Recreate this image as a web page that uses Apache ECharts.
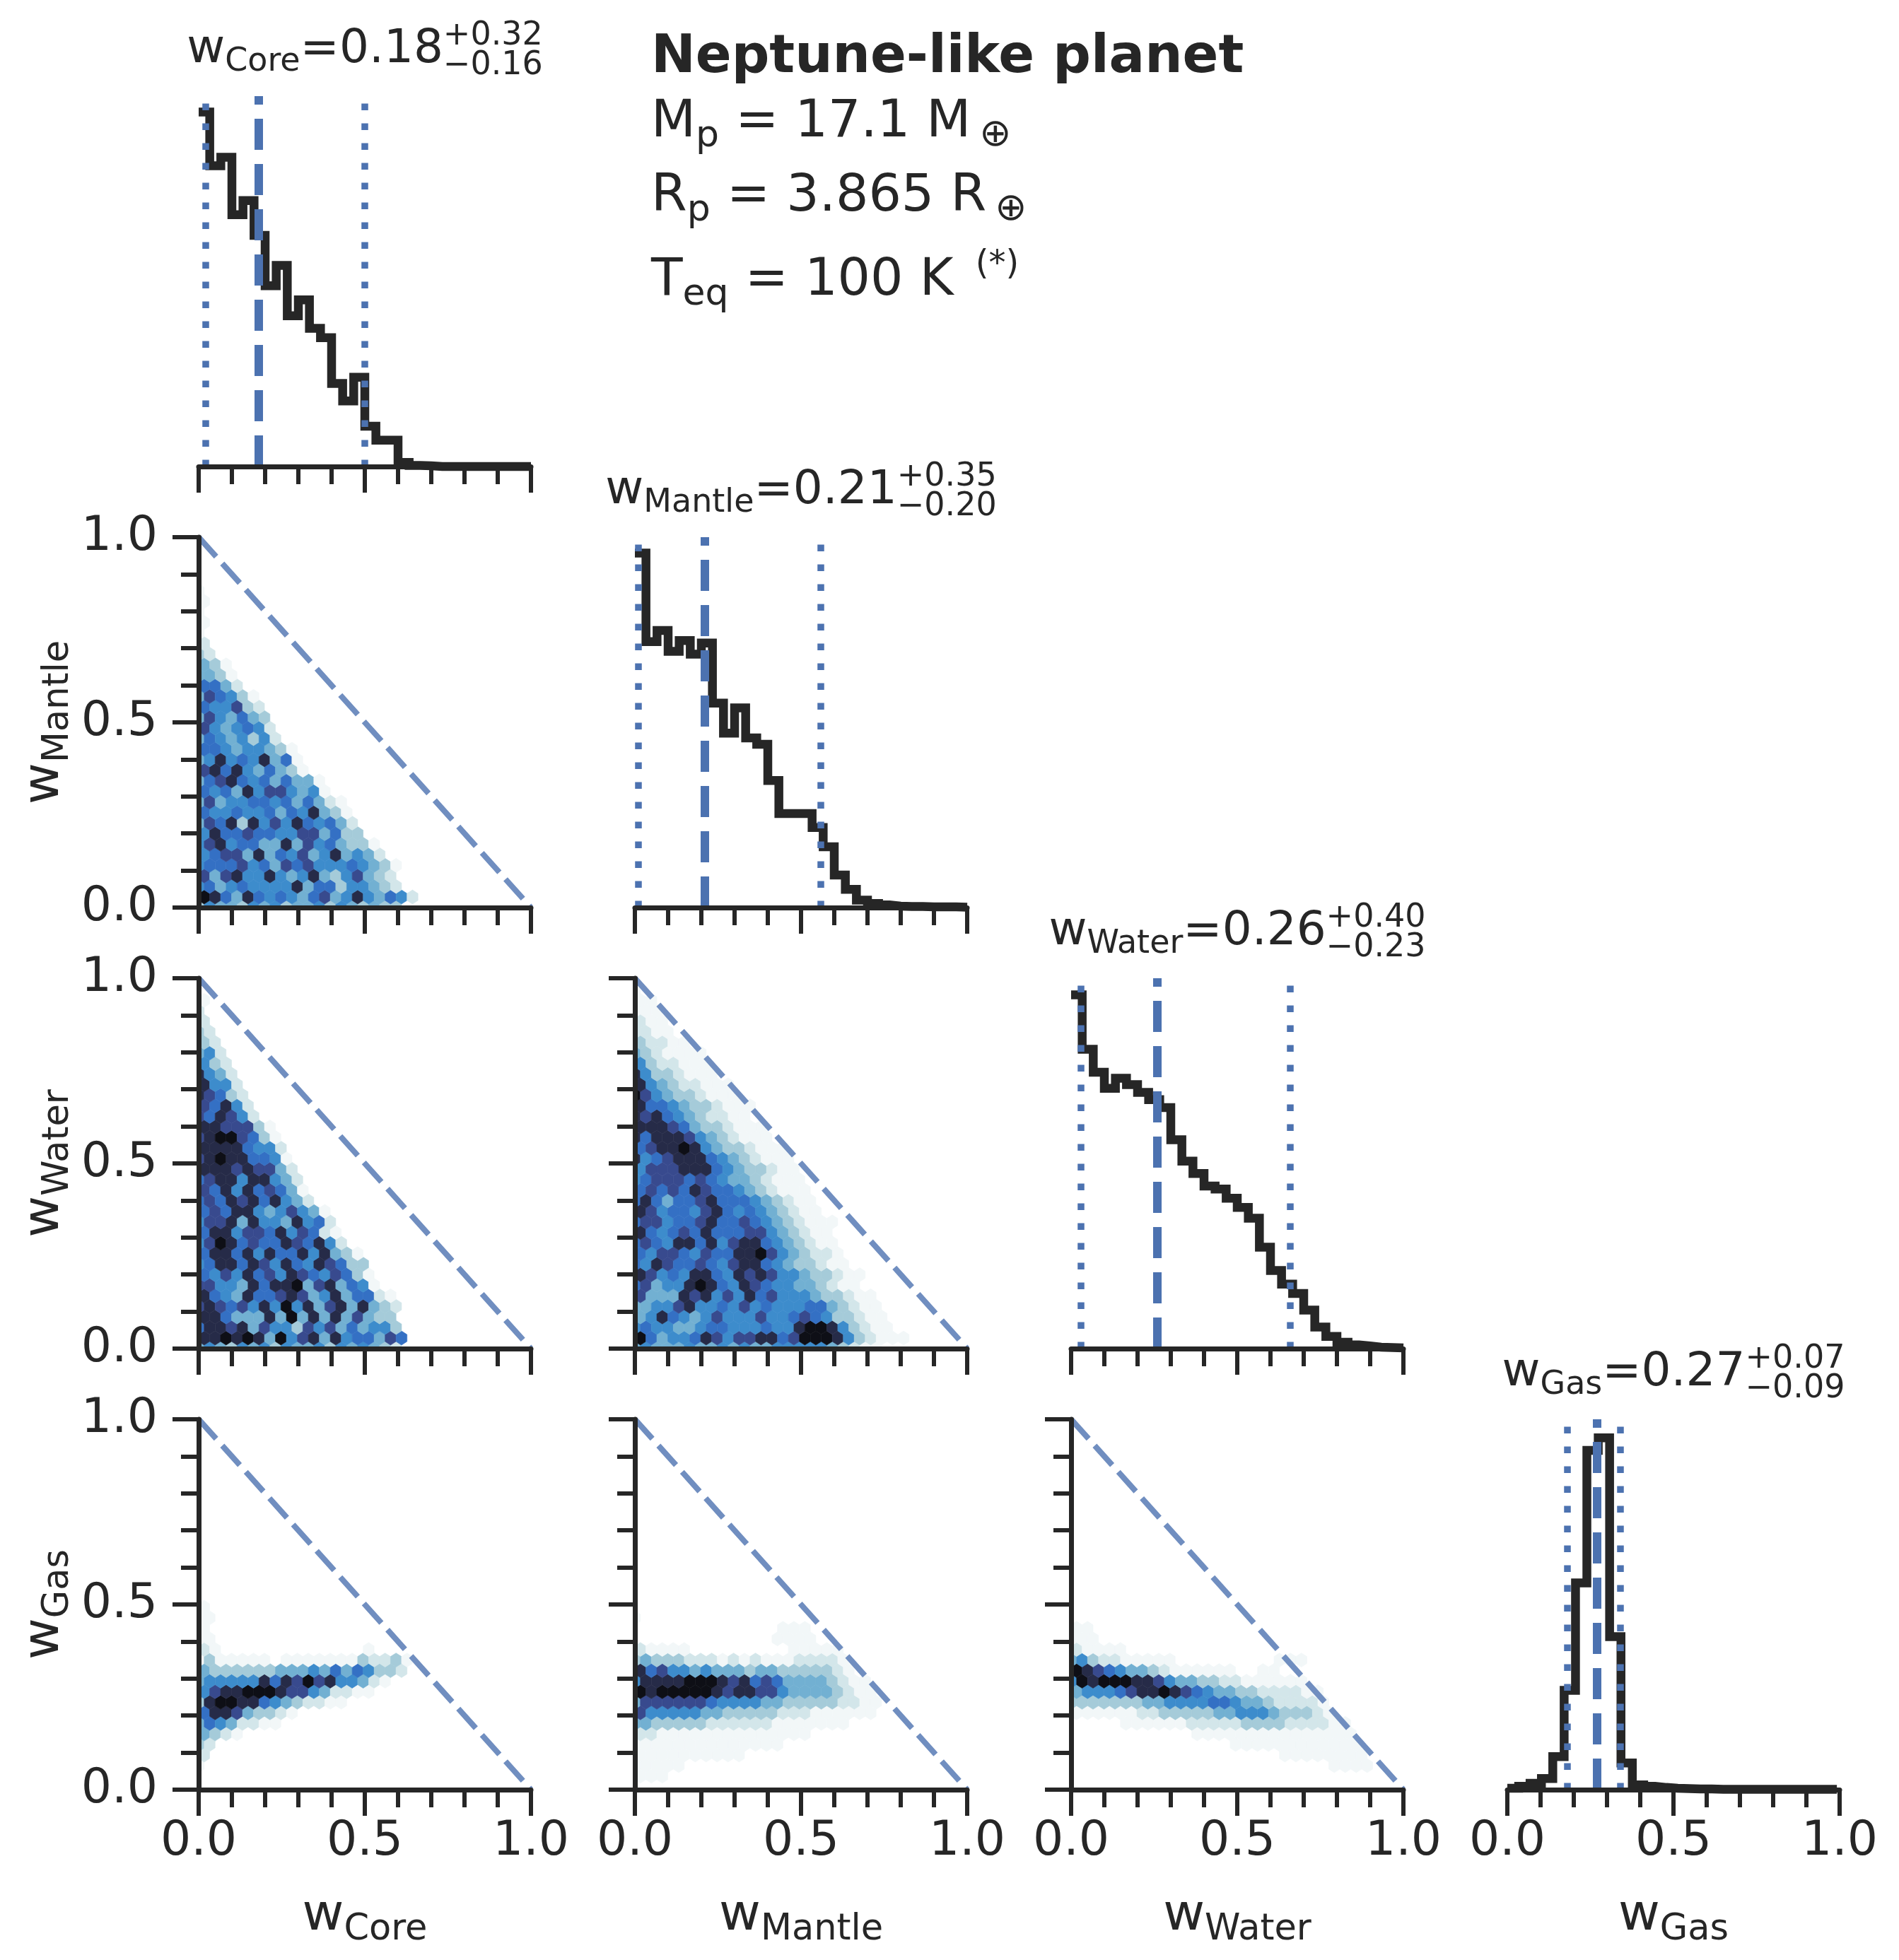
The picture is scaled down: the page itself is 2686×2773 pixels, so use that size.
<!DOCTYPE html>
<html>
<head>
<meta charset="utf-8">
<script src="https://cdn.jsdelivr.net/npm/echarts@6/dist/echarts.min.js"></script>
<style>html,body{margin:0;padding:0;background:#fff;}</style>
</head>
<body>
<div id="main" style="width:2686px;height:2773px"></div>
<script>
// parameters of the corner plot
var names = ['Core', 'Mantle', 'Water', 'Gas'];
var medians = [0.18, 0.21, 0.26, 0.27];
var errPlus = [0.32, 0.35, 0.40, 0.07];
var errMinus = [0.16, 0.20, 0.23, 0.09];

// marginal histograms (height as fraction of the panel), 30 bins
var binWidth = [1 / 30, 1 / 30, 1 / 30, 0.0342];
var histCore = [0.957, 0.812, 0.835, 0.680, 0.718, 0.624, 0.488, 0.543, 0.407, 0.450, 0.373, 0.348, 0.224, 0.177, 0.241,
  0.109, 0.071, 0.071, 0.011, 0.003, 0.002, 0, 0, 0, 0, 0, 0, 0, 0, 0];
var histMantle = [0.957, 0.718, 0.748, 0.692, 0.721, 0.684, 0.714, 0.552, 0.471, 0.539, 0.458, 0.441, 0.343, 0.254, 0.254,
  0.254, 0.216, 0.164, 0.088, 0.049, 0.020, 0.011, 0.007, 0.004, 0.003, 0.003, 0.002, 0.002, 0.002, 0.001];
var histWater = [0.955, 0.808, 0.746, 0.703, 0.730, 0.713, 0.692, 0.672, 0.651, 0.564, 0.506, 0.473, 0.439, 0.431, 0.406,
  0.381, 0.352, 0.274, 0.211, 0.174, 0.149, 0.104, 0.058, 0.033, 0.017, 0.010, 0.007, 0.004, 0.003, 0.002];
var histGas = [0.004, 0.009, 0.017, 0.030, 0.089, 0.268, 0.558, 0.916, 0.950, 0.413, 0.072, 0.013, 0.009, 0.006, 0.004,
  0.003, 0.002, 0.002, 0.001, 0.001, 0.001, 0.001, 0.001, 0.001, 0.001, 0.001, 0.001, 0.001, 0.001];
var hists = [histCore, histMantle, histWater, histGas];

// hexbin density levels (0 = empty ... 9 = densest), one string per hex row from the bottom
var hexDx = 0.033, hexDy = 0.0285;
var hexCoreMantle = [
  '3544354534453543433', '98648656546745854652', '5645655558466355432', '747855854584357432',
  '5666756476755565431', '56774846574584542', '57856644847564331', '586676655774633',
  '476838575865642', '65565564658431', '47455665646421', '656485775451',
  '467865646441', '7868546431', '4585658461', '665455431',
  '46545352', '7545652', '4754643', '655732',
  '476531', '6642', '4431', '431', '32', '2', '1', '1', '1', '1', '1'
];
var hexCoreWater = [
  '4543545354453545432', '8898984957848566476', '6887847553757464553', '886444849484847433',
  '7876758595847848432', '865486678745846621', '77554868894784651', '6575867587657631',
  '5688687586587633', '688685866858431', '57986766876852', '6885776857621',
  '5778485548562', '676885457541', '67687868542', '7685867641',
  '6788588542', '888787742', '789886651', '88886552',
  '78997631', '8877731', '768752', '76852', '87632', '8552', '8542',
  '532', '452', '32', '32', '2', '2', '1'
];
var hexMantleWater = [
  '45444544545445555543211', '9645568757788679998532111', '565544566555655899853211', '45865457555755676533211',
  '44557855657565556643211', '7444878575867555433211', '674558986587655443211', '875658865878755433211',
  '65876676578865433211', '6577657668897543221', '6765886857886543211', '865676866677543211',
  '6775667866765432111', '87566578656543211', '68646678666543211', '6767687665432111',
  '5677767654432111', '577788865433211', '856788865432111', '67889854332111',
  '8688875432111', '888764332111', '87865432211', '86654332111',
  '9754332111', '854322111', '85332111', '5322111', '4321111',
  '32211', '2211', '211', '111', '11', '1'
];
var hexCoreGas = [
  '', '', '1', '2', '32', '4321', '46542211', '688743321',
  '38998865432211', '5788999877542211', '455555868797855421', '4333333444546465332',
  '13111110111111132231', '2100000000000001', '11', '1', '11', '1'
];
var hexMantleGas = [
  '', '111', '11111', '1111111111', '11111111111111', '2211111111111111',
  '44333332222221111111', '7555554433333222111111', '47777776555544333332211', '9899999878877544443211',
  '5888899987867644443211', '86755454443443333321', '34333222121211122221', '2111100000000011111',
  '00000000000001111', '0000000000000111', '1'
];
var hexWaterGas = [
  '', '', '0000000000000000000000001111', '000000000000000000011111111',
  '000000000000000111111111111', '00000000000111111111111111', '00000111111222223333222211', '111111223333344555433321',
  '333333344555566544322221', '45556788987654433222211', '5989998875443322111111', '9876544321111110011',
  '4532211111000000000111', '21111', '111', '11'
];
var hexColors = ['none', '#f2f7f8', '#d3e6ea', '#a5cbd9', '#72b0d2', '#3d8ccc', '#3470c4', '#384a8e', '#262b48', '#0e0f16'];

// layout of the 4x4 lower-triangle grid
var gridLeft = [281, 898, 1515, 2132];
var gridTop = [136, 760, 1384, 2008];
var gridW = 470, gridH = 524;
var ink = '#262626';
var lineBlue = '#4c72b0';
var font = '"DejaVu Sans"';

function hexCells(rows, y0) {
  var out = [];
  rows.forEach(function (row, r) {
    for (var c = 0; c < row.length; c++) {
      var lv = +row[c];
      if (lv > 0) out.push([(c + (r % 2) * 0.5) * hexDx, y0 + r * hexDy, lv]);
    }
  });
  return out;
}

var grids = [], xAxes = [], yAxes = [], series = [];

function axisOpt(dim, idx, labels, show) {
  return {
    type: 'value', gridIndex: idx, min: 0, max: 1, interval: 0.5, show: show, z: 5,
    axisLine: {show: true, onZero: false, lineStyle: {color: ink, width: 7}},
    axisTick: {show: true, length: 37, lineStyle: {color: ink, width: 6}},
    minorTick: {show: true, splitNumber: 5, length: 25, lineStyle: {color: ink, width: 6}},
    splitLine: {show: false},
    minorSplitLine: {show: false},
    axisLabel: {
      show: labels, margin: dim === 'x' ? 40 : 58, fontSize: 68, fontFamily: font, color: ink,
      showMinLabel: true, showMaxLabel: true,
      formatter: function (v) { return v.toFixed(1); }
    }
  };
}

function addPanel(row, col) {
  var idx = grids.length;
  grids.push({left: gridLeft[col], top: gridTop[row], width: gridW, height: gridH});
  var diag = row === col;
  xAxes.push(axisOpt('x', idx, row === 3, true));
  yAxes.push(axisOpt('y', idx, col === 0 && !diag, !diag));
  return idx;
}

// diagonal: histograms with median and 16/84 percentile lines
for (var i = 0; i < 4; i++) {
  var idx = addPanel(i, i);
  var w = binWidth[i];
  var pts = hists[i].map(function (h, k) { return [k * w, h]; });
  pts.push([hists[i].length * w, hists[i][hists[i].length - 1]]);
  var lo = +(medians[i] - errMinus[i]).toFixed(2);
  var hi = +(medians[i] + errPlus[i]).toFixed(2);
  series.push({
    type: 'line', xAxisIndex: idx, yAxisIndex: idx, data: pts, step: 'end',
    symbol: 'none', clip: false, silent: true, z: 3,
    lineStyle: {color: ink, width: 12.5, join: 'miter'},
    markLine: {
      symbol: 'none', silent: true, label: {show: false}, animation: false,
      data: [
        {xAxis: medians[i], lineStyle: {color: lineBlue, width: 12, type: [44, 20]}},
        {xAxis: lo, lineStyle: {color: lineBlue, width: 9.5, type: [9.5, 18.5]}},
        {xAxis: hi, lineStyle: {color: lineBlue, width: 9.5, type: [9.5, 18.5]}}
      ]
    }
  });
}

// off-diagonal: hexbin densities
var hexPanels = [
  {row: 1, col: 0, rows: hexCoreMantle, y0: 0},
  {row: 2, col: 0, rows: hexCoreWater, y0: 0},
  {row: 2, col: 1, rows: hexMantleWater, y0: 0},
  {row: 3, col: 0, rows: hexCoreGas, y0: 0.008},
  {row: 3, col: 1, rows: hexMantleGas, y0: 0.008},
  {row: 3, col: 2, rows: hexWaterGas, y0: 0.008}
];
var sumLine = [[0, 1], [1, 0]];

hexPanels.forEach(function (p) {
  var idx = addPanel(p.row, p.col);
  series.push({
    type: 'custom', xAxisIndex: idx, yAxisIndex: idx, clip: true, silent: true, z: 2,
    data: hexCells(p.rows, p.y0),
    encode: {x: 0, y: 1},
    renderItem: function (params, api) {
      var c = api.coord([api.value(0), api.value(1)]);
      var s = api.size([hexDx, hexDy]);
      var hw = s[0] / 2, a = s[1] / 3, b = 2 * s[1] / 3;
      var col = hexColors[api.value(2)];
      return {
        type: 'polygon',
        shape: {points: [[c[0] + hw, c[1] - a], [c[0] + hw, c[1] + a], [c[0], c[1] + b],
          [c[0] - hw, c[1] + a], [c[0] - hw, c[1] - a], [c[0], c[1] - b]]},
        style: {fill: col, stroke: col, lineWidth: 0.6}
      };
    }
  });
  series.push({
    type: 'line', xAxisIndex: idx, yAxisIndex: idx, data: sumLine, symbol: 'none',
    silent: true, z: 4, clip: false,
    lineStyle: {color: '#708ec0', width: 8, type: [37, 13]}
  });
});

// text with sub/superscripts laid out from measured widths
var mctx = document.createElement('canvas').getContext('2d');
function textWidth(t, size, weight) {
  mctx.font = (weight || 'normal') + ' ' + size + 'px ' + font;
  return mctx.measureText(t).width;
}
function mathGroup(pieces, x, y, align, rotation) {
  var els = [], cx = 0;
  pieces.forEach(function (p) {
    var items = p.stack || [p];
    var wmax = 0;
    cx += p.pad || 0;
    items.forEach(function (it) {
      var fw = it.weight || 'normal';
      els.push({
        type: 'text', x: cx, y: (it.dy || 0) - 0.3 * it.size,
        style: {
          text: it.t, fill: ink, font: fw + ' ' + it.size + 'px ' + font,
          align: 'left', verticalAlign: 'middle', textAlign: 'left', textVerticalAlign: 'middle'
        }
      });
      wmax = Math.max(wmax, textWidth(it.t, it.size, fw));
    });
    cx += wmax;
  });
  var shift = align === 'center' ? -cx / 2 : 0;
  els.forEach(function (e) { e.x += shift; });
  return {type: 'group', x: x, y: y, rotation: rotation || 0, silent: true, children: els};
}

var graphics = [];
for (var j = 0; j < 4; j++) {
  var cxj = gridLeft[j] + gridW / 2;
  graphics.push(mathGroup([
    {t: 'w', size: 66}, {t: names[j], size: 46, dy: 11}, {t: '=' + medians[j].toFixed(2), size: 66},
    {stack: [{t: '+' + errPlus[j].toFixed(2), size: 46, dy: -26}, {t: '\u2212' + errMinus[j].toFixed(2), size: 46, dy: 16}]}
  ], cxj, gridTop[j] - 45, 'center'));
  graphics.push(mathGroup([{t: 'w', size: 72}, {t: names[j], size: 51, dy: 13}], cxj, 2733, 'center'));
  if (j > 0) {
    graphics.push(mathGroup([{t: 'w', size: 72}, {t: names[j], size: 51, dy: 13}],
      85, gridTop[j] + gridH / 2, 'center', Math.PI / 2));
  }
}
graphics.push(mathGroup([{t: 'Neptune-like planet', size: 75, weight: 'bold'}], 921, 105, 'left'));
graphics.push(mathGroup([{t: 'M', size: 73}, {t: 'p', size: 52, dy: 13}, {t: ' = 17.1 M', size: 73},
  {t: '\u2295', size: 54, dy: 12, pad: 12}], 921, 196, 'left'));
graphics.push(mathGroup([{t: 'R', size: 73}, {t: 'p', size: 52, dy: 13}, {t: ' = 3.865 R', size: 73},
  {t: '\u2295', size: 54, dy: 12, pad: 12}], 921, 301, 'left'));
graphics.push(mathGroup([{t: 'T', size: 73}, {t: 'eq', size: 52, dy: 13}, {t: ' = 100 K ', size: 73},
  {t: '(*)', size: 48, dy: -30, pad: 8}], 921, 420, 'left'));

var myChart = echarts.init(document.getElementById('main'), null, {renderer: 'canvas'});
myChart.setOption({
  animation: false,
  backgroundColor: '#fff',
  grid: grids,
  xAxis: xAxes,
  yAxis: yAxes,
  series: series,
  graphic: {elements: graphics}
});
</script>
</body>
</html>
